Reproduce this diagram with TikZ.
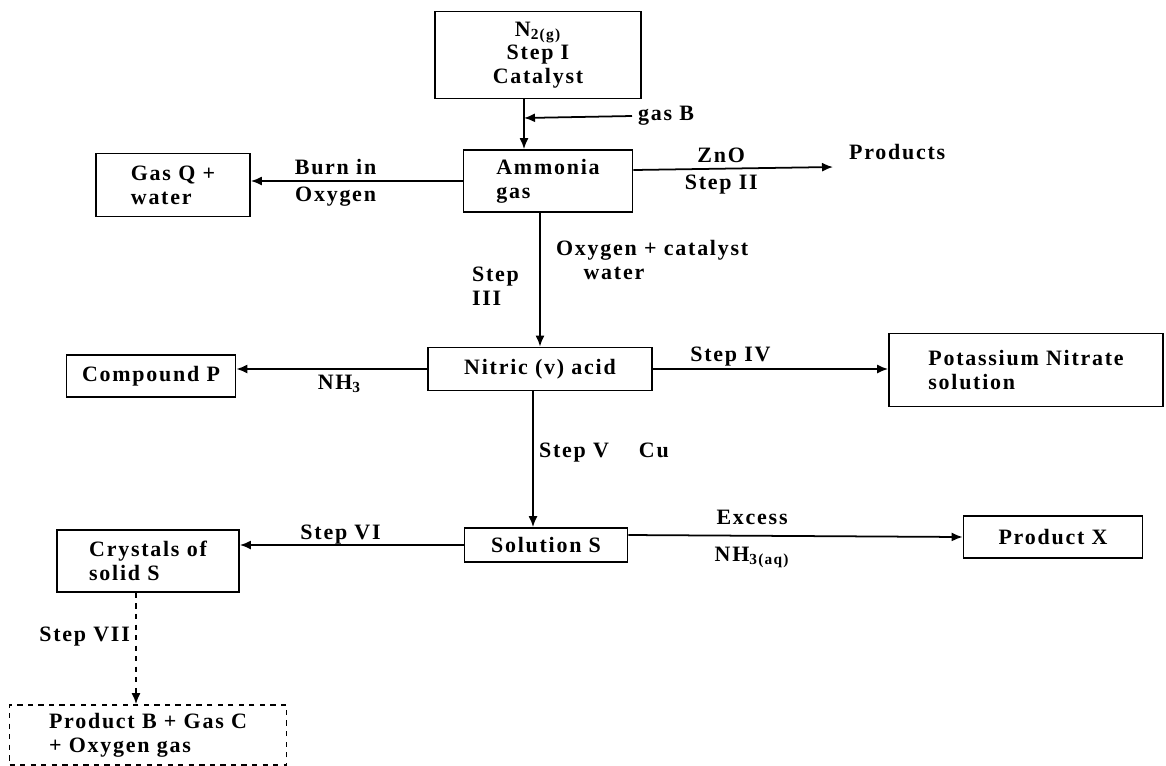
\documentclass[tikz,border=0pt]{standalone}
\usepackage{fontspec}
\setmainfont{Liberation Serif}[LetterSpace=8]
\usetikzlibrary{arrows.meta}

\begin{document}
\begin{tikzpicture}[x=0.02cm,y=-0.02cm,>={Latex[length=2.2mm,width=1.8mm]},
    font=\bfseries\fontsize{12.5}{13.5}\selectfont,
    box/.style={draw,line width=1pt,align=left,inner sep=2pt},
    flow/.style={->,line width=1pt},
    lbl/.style={inner sep=3pt,align=left}]
  \useasboundingbox (0,0) rectangle (1166,765);
  % boxes
  \node[box,align=center,minimum width=4.12cm,minimum height=1.74cm] (ntwo) at (538,55) {N\textsubscript{2(g)}\\Step I\\Catalyst};
  \node[box,minimum width=3.38cm,minimum height=1.24cm] (ammonia) at (548,181) {Ammonia\\gas};
  \node[box,minimum width=3.08cm,minimum height=1.26cm] (gasq) at (173,185) {Gas Q +\\water};
  \node[anchor=west] (prod) at (843,152) {Products};
  \node[box,minimum width=4.48cm,minimum height=0.86cm] (nitric) at (540,369) {Nitric (v) acid};
  \node[box,minimum width=3.38cm,minimum height=0.84cm] (compp) at (151,376) {Compound P};
  \node[box,minimum width=5.48cm,minimum height=1.46cm] (kno) at (1026,370) {Potassium Nitrate\\solution};
  \node[box,minimum width=3.26cm,minimum height=0.68cm] (sols) at (546,545) {Solution S};
  \node[box,minimum width=3.64cm,minimum height=1.24cm] (cryst) at (148,561) {Crystals of\\solid S};
  \node[box,minimum width=3.58cm,minimum height=0.84cm] (prodx) at (1053,537) {Product X};
  \node[box,dashed,minimum width=5.54cm,minimum height=1.2cm] (prodb) at (148,735) {Product B + Gas C\\+ Oxygen gas};
  \node[anchor=west] (gasb) at (632,116) {gas B};
  \coordinate (joinb) at (524,118);
  \coordinate (prodtip) at (833,167);

  % connectors
  \draw[flow] (joinb |- ntwo.south) -- (joinb |- ammonia.north);
  \draw[flow] (gasb.west) -- (joinb);
  \draw[flow] (ammonia.west) -- (ammonia.west -| gasq.east)
    node[lbl,above,pos=0.6] {Burn in} node[lbl,below,pos=0.6] {Oxygen};
  \draw[flow] ([yshift=0.22cm]ammonia.east) -- (prodtip)
    node[lbl,above,pos=0.44] {ZnO} node[lbl,below,pos=0.44] {Step II};
  \draw[flow] (nitric.north |- ammonia.south) -- (nitric.north)
    node[lbl,left,pos=0.55,xshift=-0.3cm] {Step\\III}
    node[lbl,right,pos=0.35,xshift=0.2cm] {Oxygen + catalyst\\\hspace*{0.55cm}water};
  \draw[flow] (nitric.west) -- (nitric.west -| compp.east)
    node[lbl,below,pos=0.46] {NH\textsubscript{3}};
  \draw[flow] (nitric.east) -- (nitric.east -| kno.west)
    node[lbl,above,pos=0.33,inner sep=1pt] {Step IV};
  \draw[flow] ([xshift=-0.14cm]nitric.south) -- ([xshift=-0.14cm]nitric.south |- sols.north)
    node[lbl,right,pos=0.45] {Step V\hspace{0.6cm}Cu};
  \draw[flow] (sols.west) -- (sols.west -| cryst.east)
    node[lbl,above,pos=0.55,inner sep=0pt] {Step VI};
  \draw[flow] ([yshift=0.2cm]sols.east) -- (prodx.west)
    node[lbl,above,pos=0.37,yshift=0.1cm] {Excess} node[lbl,below,pos=0.37,yshift=-0.1cm] {NH\textsubscript{3(aq)}};
  \draw[flow,dashed] ([xshift=-0.24cm]cryst.south) -- ([xshift=-0.24cm]cryst.south |- prodb.north)
    node[lbl,left,pos=0.39] {Step VII};
\end{tikzpicture}
\end{document}
